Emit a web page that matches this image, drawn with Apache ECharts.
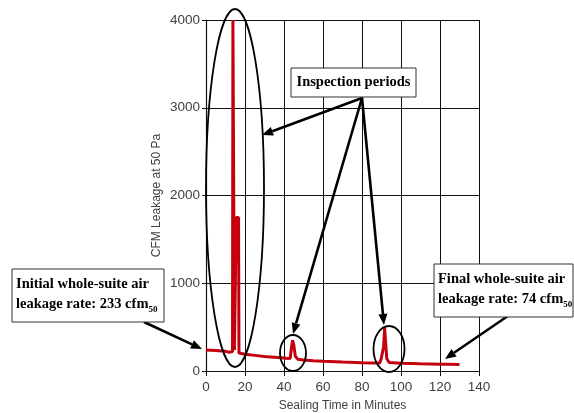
<!DOCTYPE html>
<html>
<head>
<meta charset="utf-8">
<script src="https://cdn.jsdelivr.net/npm/echarts@6/dist/echarts.min.js"></script>
<style>
  html, body { margin: 0; padding: 0; background: #fff; }
  #chart { width: 574px; height: 413px; }
</style>
</head>
<body>
<div id="chart"></div>
<script>
// sealing time (minutes) and leakage (CFM at 50 Pa)
var minutes = [0, 5, 10, 12, 13, 13.6, 13.8, 14.4, 14.6, 15.2, 15.5, 16.7, 16.9, 17.5, 20, 25, 30, 35, 40, 42, 43.2,
  43.8, 44.4, 45, 45.8, 47, 50, 55, 60, 70, 80, 85, 89, 89.8, 90.5, 91.1, 91.6, 92.2, 92.7, 94, 100, 110, 120, 125, 130];
var leakage = [238, 234, 224, 214, 218, 222, 4000, 4000, 240, 230, 1750, 1750, 205, 198, 190, 178, 166, 157, 148, 142, 145,
  260, 350, 300, 170, 135, 125, 118, 112, 102, 95, 92, 90, 135, 115, 280, 490, 470, 140, 96, 88, 82, 78, 76, 74];
var xTicks = [0, 20, 40, 60, 80, 100, 120, 140];
var yTicks = [0, 1000, 2000, 3000, 4000];

var chart = echarts.init(document.getElementById('chart'));

var serif = '"Liberation Serif", "Times New Roman", serif';
var sans = '"Liberation Sans", Arial, sans-serif';
var boxText = {
  fontFamily: serif, fontWeight: 'bold', fontSize: 14.5, fill: '#000',
  lineHeight: 20,
  rich: {
    b: { fontFamily: serif, fontWeight: 'bold', fontSize: 14.5, lineHeight: 20 },
    s: { fontFamily: serif, fontWeight: 'bold', fontSize: 9, lineHeight: 20, verticalAlign: 'bottom', padding: [6, 0, 0, 0] }
  }
};

function arrow(x1, y1, x2, y2) {
  var a = Math.atan2(y2 - y1, x2 - x1), len = 11, w = 4.5;
  var bx = x2 - len * Math.cos(a), by = y2 - len * Math.sin(a);
  return [{
    type: 'line', z: 100,
    shape: { x1: x1, y1: y1, x2: bx, y2: by },
    style: { stroke: '#000', lineWidth: 2.6 }
  }, {
    type: 'polygon', z: 100,
    shape: { points: [[x2, y2], [bx - w * Math.sin(a), by + w * Math.cos(a)], [bx + w * Math.sin(a), by - w * Math.cos(a)]] },
    style: { fill: '#000' }
  }];
}

function box(x, y, w, h, text, tx, ty, align) {
  return [{
    type: 'rect', z: 100,
    shape: { x: x, y: y, width: w, height: h },
    style: { fill: '#fff', stroke: '#333', lineWidth: 1 }
  }, {
    type: 'text', z: 101, x: tx, y: ty,
    style: Object.assign({ text: text, align: align, verticalAlign: 'middle' }, boxText)
  }];
}

function ring(cx, cy, rx, ry) {
  return {
    type: 'ellipse', z: 90,
    shape: { cx: cx, cy: cy, rx: rx, ry: ry },
    style: { fill: 'none', stroke: '#000', lineWidth: 1.8 }
  };
}

var graphics = [].concat(
  ring(235, 188, 29, 179),
  ring(293, 353, 13, 18),
  ring(389, 349, 15.5, 23),
  arrow(362, 98, 262, 135),
  arrow(362, 98, 293, 334),
  arrow(362, 98, 384, 325),
  arrow(144, 322, 202, 349),
  arrow(521, 307, 445, 359),
  box(291, 68, 125, 29, 'Inspection periods', 353.5, 82.5, 'center'),
  box(12, 269, 152, 53, '{b|Initial whole-suite air}\n{b|leakage rate: 233 cfm}{s|50}', 16, 294, 'left'),
  box(434, 264, 139, 53, '{b|Final whole-suite air}\n{b|leakage rate: 74 cfm}{s|50}', 438, 289, 'left')
);

var option = {
  backgroundColor: '#fff',
  animation: false,
  grid: { left: 206, right: 95, top: 20, bottom: 42, outerBoundsMode: 'none', containLabel: false },
  xAxis: {
    type: 'value',
    min: xTicks[0], max: xTicks[xTicks.length - 1], interval: 20,
    name: 'Sealing Time in Minutes',
    nameLocation: 'middle', nameGap: 29,
    nameTextStyle: { color: '#404040', fontSize: 12, fontFamily: sans },
    axisLine: { lineStyle: { color: '#111', width: 1.2 } },
    axisTick: { show: true, length: 5, lineStyle: { color: '#111' } },
    axisLabel: { color: '#404040', fontSize: 13.5, margin: 9, fontFamily: sans },
    splitLine: { show: true, lineStyle: { color: '#111', width: 1 } }
  },
  yAxis: {
    type: 'value',
    min: yTicks[0], max: yTicks[yTicks.length - 1], interval: 1000,
    name: 'CFM Leakage at 50 Pa',
    nameLocation: 'middle', nameGap: 43,
    nameTextStyle: { color: '#404040', fontSize: 12, fontFamily: sans },
    axisLine: { show: true, lineStyle: { color: '#111', width: 1.2 } },
    axisTick: { show: true, length: 4, lineStyle: { color: '#111' } },
    axisLabel: { color: '#404040', fontSize: 13.5, margin: 6, fontFamily: sans, formatter: function (v) { return String(v); } },
    splitLine: { show: true, lineStyle: { color: '#111', width: 1 } }
  },
  series: [{
    type: 'line',
    data: minutes.map(function (m, i) { return [m, leakage[i]]; }),
    showSymbol: false,
    lineStyle: { color: '#c4000f', width: 3 },
    itemStyle: { color: '#c4000f' }
  }],
  graphic: graphics
};

chart.setOption(option);
</script>
</body>
</html>
